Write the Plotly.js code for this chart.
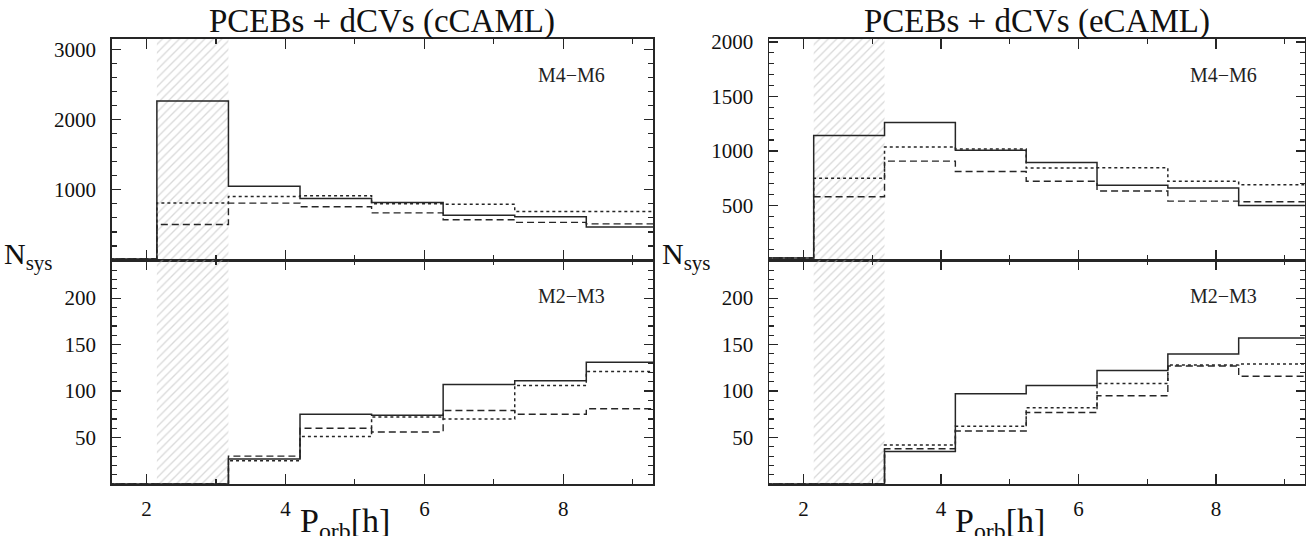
<!DOCTYPE html>
<html><head><meta charset="utf-8">
<script src="https://cdn.plot.ly/plotly-3.0.1.min.js"></script>
<style>html,body{margin:0;padding:0;background:#fff}#chart{width:1313px;height:536px}</style>
</head><body><div id="chart"></div>
<script>
// ---- data ----
const binEdges = [1.12, 2.15, 3.18, 4.21, 5.24, 6.27, 7.30, 8.33, 9.36];
const periodGap = [2.15, 3.18];
const panelTitles = ["PCEBs + dCVs (cCAML)", "PCEBs + dCVs (eCAML)"];
const groupLabels = ["M4\u2212M6", "M2\u2212M3"];
const xTicks = [2, 4, 6, 8];
const yTicksTopC = [1000, 2000, 3000];
const yTicksTopE = [500, 1000, 1500, 2000];
const yTicksBottom = [50, 100, 150, 200];

// cCAML, M4-M6
const cTopSolid  = [14, 2262, 1048, 876, 819, 636, 614, 471];
const cTopDotted = [14, 810, 905, 914, 800, 795, 690, 690];
const cTopDashed = [14, 505, 810, 757, 671, 572, 535, 514];
// cCAML, M2-M3
const cBotSolid  = [0, 0, 27, 75, 74, 107, 111, 131];
const cBotDotted = [0, 0, 25, 51, 72, 70, 106, 121];
const cBotDashed = [0, 0, 30, 60, 56, 79, 75, 81];
// eCAML, M4-M6
const eTopSolid  = [18, 1142, 1262, 1006, 895, 685, 660, 500];
const eTopDotted = [18, 750, 1037, 1019, 843, 846, 722, 691];
const eTopDashed = [18, 580, 907, 812, 722, 633, 540, 535];
// eCAML, M2-M3
const eBotSolid  = [0, 0, 35, 97, 106, 122, 140, 157];
const eBotDotted = [0, 0, 42, 62, 82, 108, 128, 129];
const eBotDashed = [0, 0, 38, 57, 77, 95, 127, 116];

// ---- layout helpers (pixels -> paper) ----
const W = 1313, H = 536;
const px = v => v / W;
const py = v => 1 - v / H;
const INK = '#262626';
const FONT = 'Liberation Serif, Times New Roman, serif';

const yMaxTopC = 3150, yMaxTopE = 2030, yMaxBot = 241;

function stepY(vals){ return vals.concat([vals[vals.length-1]]); }

const styles = [
  {dash:'solid', width:1.5},
  {dash:'dot', width:1.5},
  {dash:'7px,4px', width:1.4}
];

const panels = [
  {xa:'x',  ya:'y',  ymax:yMaxTopC, series:[cTopSolid, cTopDotted, cTopDashed]},
  {xa:'x2', ya:'y2', ymax:yMaxBot,  series:[cBotSolid, cBotDotted, cBotDashed]},
  {xa:'x3', ya:'y3', ymax:yMaxTopE, series:[eTopSolid, eTopDotted, eTopDashed]},
  {xa:'x4', ya:'y4', ymax:yMaxBot,  series:[eBotSolid, eBotDotted, eBotDashed]}
];

const traces = [];
panels.forEach(p => {
  traces.push({
    type:'bar', xaxis:p.xa, yaxis:p.ya,
    x:[(periodGap[0]+periodGap[1])/2], width:[periodGap[1]-periodGap[0]],
    y:[p.ymax], base:0,
    marker:{color:'rgba(0,0,0,0)', line:{width:0},
      pattern:{shape:'/', fgcolor:'#b4b4b4', bgcolor:'rgba(0,0,0,0)', size:6, solidity:0.22, fillmode:'overlay'}},
    hoverinfo:'skip'
  });
  p.series.forEach((vals, i) => {
    traces.push({
      type:'scatter', mode:'lines', xaxis:p.xa, yaxis:p.ya,
      x:binEdges, y:stepY(vals),
      line:{shape:'hv', color:INK, width:styles[i].width, dash:styles[i].dash},
      hoverinfo:'skip'
    });
  });
});

const xL = [px(111.7), px(653)];
const xR = [px(769), px(1304.7)];
const yTop = [py(260), py(38.7)];
const yBot = [py(484), py(260)];

function xAxis(domain, anchor, labels){
  return {
    domain, anchor, range:[1.5, 9.29], showgrid:false, zeroline:false,
    showline:true, linecolor:INK, linewidth:1.5, mirror:'ticks',
    ticks:'inside', ticklen:10, tickwidth:1.2, tickcolor:INK,
    tickmode:'array', tickvals:xTicks, showticklabels:labels,
    ticklabelstandoff:5,
    tickfont:{family:FONT, size:21, color:'#111'},
    minor:{dtick:1, tick0:0, ticks:'inside', ticklen:5, tickwidth:1.2, tickcolor:INK, showgrid:false}
  };
}
function yAxis(domain, anchor, range, vals, minorStep){
  return {
    domain, anchor, range, showgrid:false, zeroline:false,
    showline:true, linecolor:INK, linewidth:1.5, mirror:'ticks',
    ticks:'inside', ticklen:9, tickwidth:1.2, tickcolor:INK,
    tickmode:'array', tickvals:vals, ticklabelstandoff:10,
    tickfont:{family:FONT, size:21, color:'#111'},
    minor:{dtick:minorStep, tick0:0, ticks:'inside', ticklen:5, tickwidth:1.2, tickcolor:INK, showgrid:false}
  };
}

const ann = [];
// titles
ann.push({xref:'paper', yref:'paper', x:px(382), y:py(21), xanchor:'center', yanchor:'middle',
  text:panelTitles[0], showarrow:false, font:{family:FONT, size:33, color:'#111'}});
ann.push({xref:'paper', yref:'paper', x:px(1037), y:py(21), xanchor:'center', yanchor:'middle',
  text:panelTitles[1], showarrow:false, font:{family:FONT, size:33, color:'#111'}});
// group labels
[['x','y',0],['x2','y2',1],['x3','y3',0],['x4','y4',1]].forEach(a => {
  ann.push({xref:a[0]+' domain', yref:a[1]+' domain', x:0.849, y:0.838, xanchor:'center', yanchor:'middle',
    text:groupLabels[a[2]], showarrow:false, font:{family:FONT, size:20, color:'#222'}});
});
// N_sys labels
[2, 660].forEach(x0 => {
  ann.push({xref:'paper', yref:'paper', x:px(x0), y:py(256), xanchor:'left', yanchor:'middle',
    text:'N<sub>sys</sub>', showarrow:false, font:{family:FONT, size:30, color:'#111'}});
});
// P_orb labels
[345, 1000].forEach(x0 => {
  ann.push({xref:'paper', yref:'paper', x:px(x0), y:py(500), xanchor:'center', yanchor:'top',
    text:'P<sub>orb</sub>[h]', showarrow:false, font:{family:FONT, size:34, color:'#111'}});
});

const layout = {
  width:W, height:H, margin:{l:0, r:0, t:0, b:0},
  paper_bgcolor:'#fff', plot_bgcolor:'rgba(0,0,0,0)',
  showlegend:false, barmode:'overlay', hovermode:false,
  xaxis: xAxis(xL, 'y', false),
  xaxis2: xAxis(xL, 'y2', true),
  xaxis3: xAxis(xR, 'y3', false),
  xaxis4: xAxis(xR, 'y4', true),
  yaxis: yAxis(yTop, 'x', [0, yMaxTopC], yTicksTopC, 200),
  yaxis2: yAxis(yBot, 'x2', [0, yMaxBot], yTicksBottom, 10),
  yaxis3: yAxis(yTop, 'x3', [0, yMaxTopE], yTicksTopE, 100),
  yaxis4: yAxis(yBot, 'x4', [0, yMaxBot], yTicksBottom, 10),
  annotations: ann
};

Plotly.newPlot('chart', traces, layout, {staticPlot:true});
</script>
</body></html>
